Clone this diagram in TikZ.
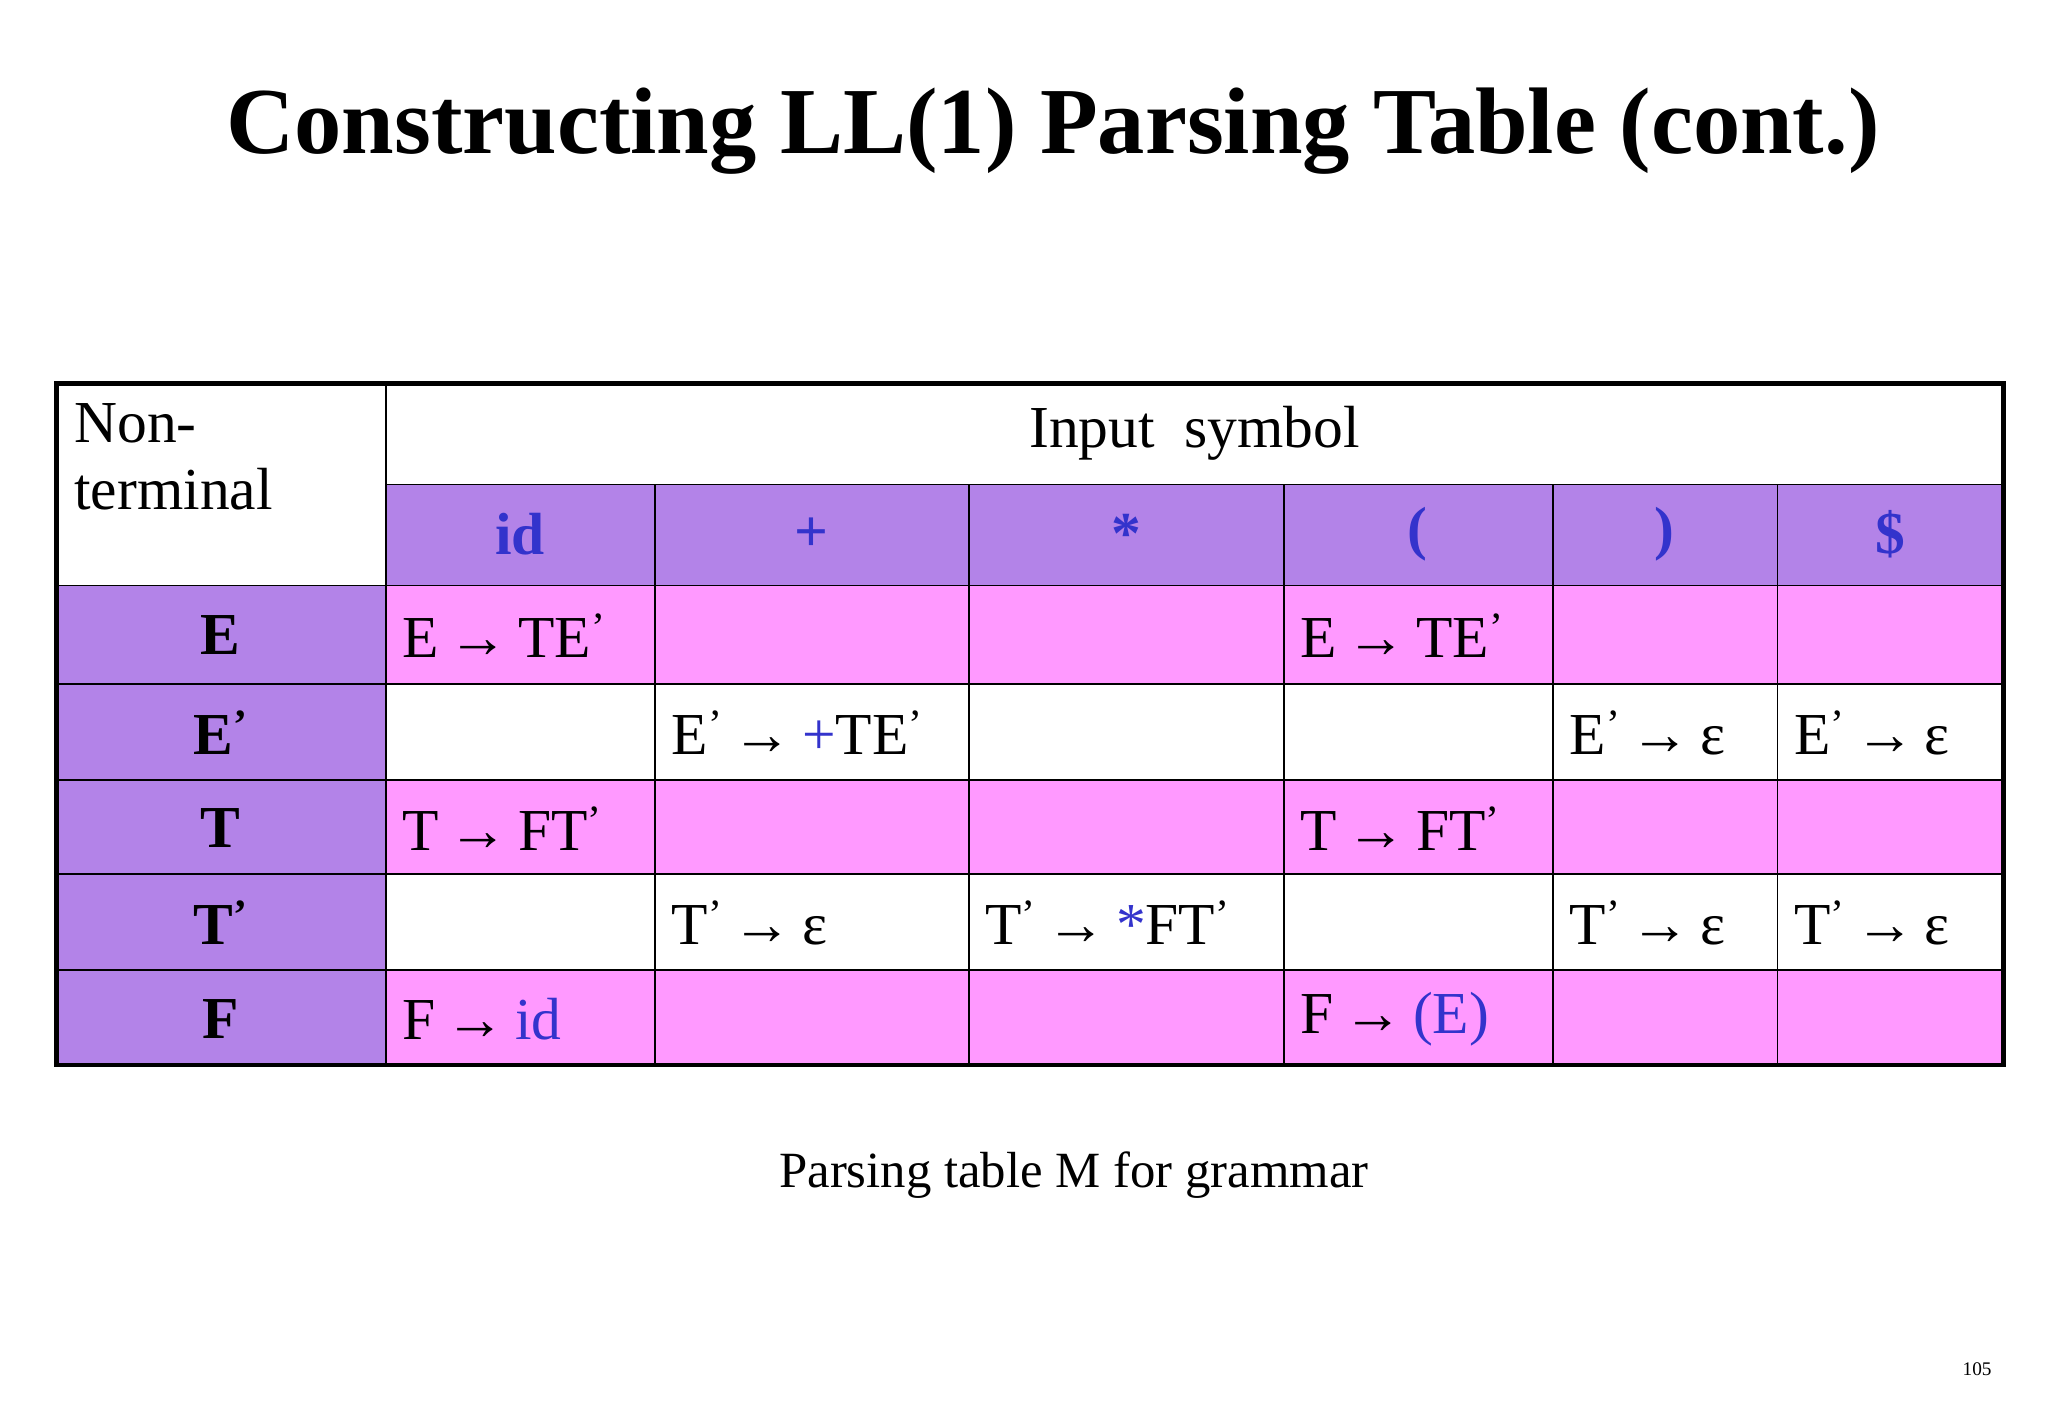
\documentclass[tikz,border=0pt]{standalone}
\usepackage{fontspec}
\setmainfont{Liberation Serif}
\definecolor{hdr}{HTML}{B383E8}
\definecolor{pnk}{HTML}{FF99FF}
\definecolor{blu}{HTML}{3333CC}
\newcommand{\pr}{\textsuperscript{’}}
\newcommand{\ar}{\,→\,}
\begin{document}
\begin{tikzpicture}[x=0.75pt,y=-0.75pt,
  big/.style={font=\fontsize{34}{38}\selectfont},
  cellL/.style={big,anchor=west},
  cellC/.style={big,anchor=center}]
\useasboundingbox (0,0) rectangle (1560,1080);
% backgrounds
\fill[hdr] (294,369) rectangle (1526,446);
\fill[hdr] (43,446) rectangle (294,811);
\foreach \a/\b in {446/521,594/666,739/811}{\fill[pnk] (294,\a) rectangle (1526,\b);}
% grid
\draw[line width=1pt] (294,369) -- (1526,369);
\foreach \y in {446,521,594,666,739}{\draw[line width=1pt] (43,\y) -- (1526,\y);}
\draw[line width=1pt] (294,292) -- (294,811);
\foreach \x in {499,738,978,1183,1354}{\draw[line width=1pt] (\x,369) -- (\x,811);}
\draw[line width=2.5pt] (43,292) rectangle (1526,811);
% title
\node[font=\fontsize{54}{60}\selectfont\bfseries] (title) at (802,100) {Constructing LL(1) Parsing Table (cont.)};
\node[big,anchor=north west,align=left] (nt) at (52,303) {Non-\\terminal};
\node[cellC] (inp) at (910,330) {Input\ \ symbol};
% header
\node[cellC,text=blu,font=\fontsize{34}{38}\selectfont\bfseries] (h1) at (396,407) {id};
\node[cellC,text=blu,font=\fontsize{34}{38}\selectfont\bfseries] (h2) at (618,407) {+};
\node[cellC,text=blu,font=\fontsize{34}{38}\selectfont\bfseries] (h3) at (858,407) {*};
\node[cellC,text=blu,font=\fontsize{34}{38}\selectfont\bfseries] (h4) at (1080,407) {(};
\node[cellC,text=blu,font=\fontsize{34}{38}\selectfont\bfseries] (h5) at (1268,407) {)};
\node[cellC,text=blu,font=\fontsize{34}{38}\selectfont\bfseries] (h6) at (1440,407) {\$};
% row labels
\node[cellC,font=\fontsize{34}{38}\selectfont\bfseries] (rE) at (168,484) {E};
\node[cellC,font=\fontsize{34}{38}\selectfont\bfseries] (rEp) at (168,558) {E\pr};
\node[cellC,font=\fontsize{34}{38}\selectfont\bfseries] (rT) at (168,631) {T};
\node[cellC,font=\fontsize{34}{38}\selectfont\bfseries] (rTp) at (168,703) {T\pr};
\node[cellC,font=\fontsize{34}{38}\selectfont\bfseries] (rF) at (168,776) {F};
% entries
\node[cellL] (c11) at (302,484) {E\ar TE\pr};
\node[cellL] (c14) at (986,484) {E\ar TE\pr};
\node[cellL] (c22) at (507,558) {E\pr\ar\textcolor{blu}{+}TE\pr};
\node[cellL] (c25) at (1191,558) {E\pr\ar ε};
\node[cellL] (c26) at (1362,558) {E\pr\ar ε};
\node[cellL] (c31) at (302,631) {T\ar FT\pr};
\node[cellL] (c34) at (986,631) {T\ar FT\pr};
\node[cellL] (c42) at (507,703) {T\pr\ar ε};
\node[cellL] (c43) at (746,703) {T\pr\ar\textcolor{blu}{*}FT\pr};
\node[cellL] (c45) at (1191,703) {T\pr\ar ε};
\node[cellL] (c46) at (1362,703) {T\pr\ar ε};
\node[cellL] (c51) at (302,776) {F\ar\textcolor{blu}{id}};
\node[cellL] (c54) at (986,776) {F\ar\textcolor{blu}{(E)}};
% caption
\node[font=\fontsize{29}{32}\selectfont] (cap) at (818,895) {Parsing table M for grammar};
\node[font=\fontsize{11}{12}\selectfont] (pg) at (1506,1043) {105};
\end{tikzpicture}
\end{document}
